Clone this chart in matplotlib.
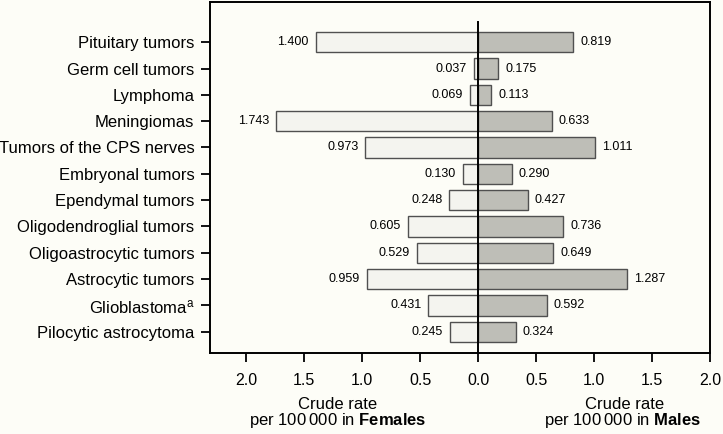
import matplotlib
matplotlib.use("Agg")
import matplotlib.pyplot as plt
import numpy as np

categories = ["Pituitary tumors", "Germ cell tumors", "Lymphoma", "Meningiomas",
              "Tumors of the CPS nerves", "Embryonal tumors", "Ependymal tumors",
              "Oligodendroglial tumors", "Oligoastrocytic tumors", "Astrocytic tumors",
              "Glioblastoma$^{\\mathrm{a}}$", "Pilocytic astrocytoma"]
females = [1.400, 0.037, 0.069, 1.743, 0.973, 0.130, 0.248, 0.605, 0.529, 0.959, 0.431, 0.245]
males = [0.819, 0.175, 0.113, 0.633, 1.011, 0.290, 0.427, 0.736, 0.649, 1.287, 0.592, 0.324]
xticks = [-2.0, -1.5, -1.0, -0.5, 0.0, 0.5, 1.0, 1.5, 2.0]
xticklabels = ["2.0", "1.5", "1.0", "0.5", "0.0", "0.5", "1.0", "1.5", "2.0"]

plt.rcParams['font.family'] = ['Liberation Sans', 'DejaVu Sans']
plt.rcParams['mathtext.fontset'] = 'custom'
plt.rcParams['mathtext.rm'] = 'Liberation Sans'
plt.rcParams['mathtext.bf'] = 'Liberation Sans:bold'
plt.rcParams['mathtext.it'] = 'Liberation Sans:italic'

bg = "#fdfdf7"
fig = plt.figure(figsize=(7.23, 4.34), dpi=100, facecolor=bg)
ax = fig.add_axes([0.291, 0.187, 0.691, 0.808], facecolor=bg)

n = len(categories)
y = np.arange(n)[::-1]
h = 0.78
ax.barh(y, [-v for v in females], height=h, color="#f4f4ef", edgecolor="#505050", linewidth=1.0, zorder=2)
ax.barh(y, males, height=h, color="#bebeb7", edgecolor="#505050", linewidth=1.0, zorder=2)
ax.plot([0, 0], [-0.8, 11.75], color="black", lw=1.4, zorder=3)

for yi, f, m in zip(y, females, males):
    ax.annotate(f"{f:.3f}", (-f, yi), xytext=(-5, 0), textcoords="offset points",
                ha="right", va="center", fontsize=9)
    ax.annotate(f"{m:.3f}", (m, yi), xytext=(5, 0), textcoords="offset points",
                ha="left", va="center", fontsize=9)

ax.set_xlim(-2.31, 2.0)
ax.set_ylim(-0.8, 12.52)
ax.set_yticks(y)
ax.set_yticklabels(categories, fontsize=12)
ax.set_xticks(xticks)
ax.set_xticklabels(xticklabels, fontsize=11.5)
ax.tick_params(axis="y", length=6.5, width=1.3, pad=5)
ax.tick_params(axis="x", length=6.5, width=1.3, pad=8)
for s in ax.spines.values():
    s.set_linewidth(1.4)
    s.set_color("black")

tr = ax.get_xaxis_transform()
ax.text(-1.21, -0.1595, "Crude rate", transform=tr, ha="center", va="baseline", fontsize=12)
ax.text(-1.21, -0.207, "per 100\u2009000 in $\\mathbf{Females}$", transform=tr, ha="center", va="baseline", fontsize=12)
ax.text(1.26, -0.1595, "Crude rate", transform=tr, ha="center", va="baseline", fontsize=12)
ax.text(1.245, -0.207, "per 100\u2009000 in $\\mathbf{Males}$", transform=tr, ha="center", va="baseline", fontsize=12)

fig.savefig("out.png", dpi=100, facecolor=bg)
